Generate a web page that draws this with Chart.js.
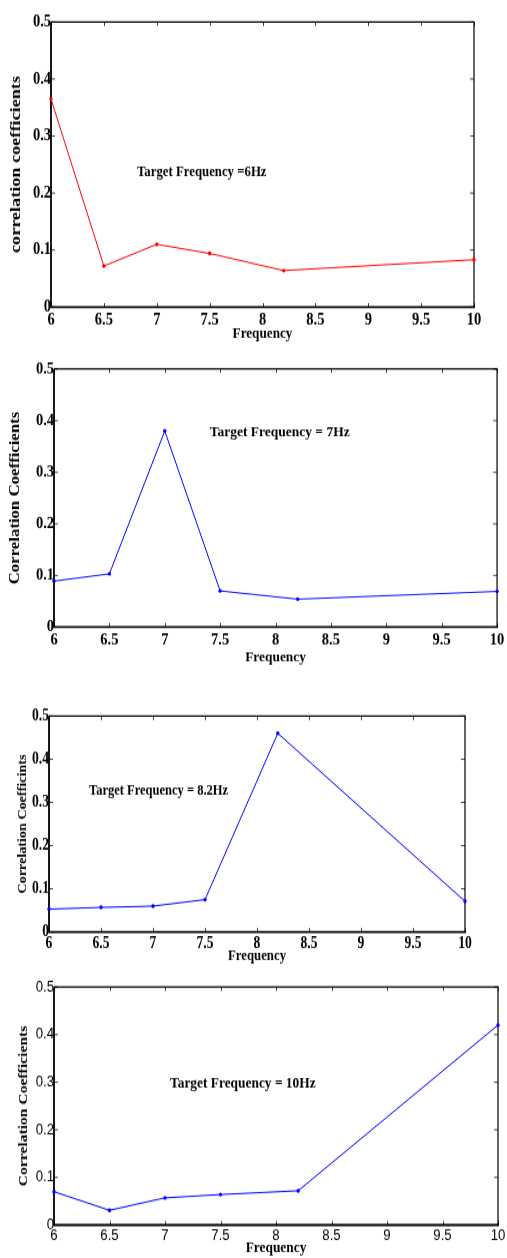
<!DOCTYPE html>
<html><head><meta charset="utf-8">
<script src="https://cdn.jsdelivr.net/npm/chart.js@4.4.1/dist/chart.umd.min.js"></script>
<style>
html,body{margin:0;padding:0;background:#fff}
body{width:507px;height:1258px;position:relative;overflow:hidden}
canvas{position:absolute;left:0;transform-origin:0 0}
</style></head><body>
<canvas id="c1" width="507"></canvas>
<canvas id="c2" width="507"></canvas>
<canvas id="c3" width="507"></canvas>
<canvas id="c4" width="507"></canvas>
<script>
// ---- data ----
const freq = [6, 6.5, 7, 7.5, 8.2, 10];
const corr6Hz  = [0.365, 0.072, 0.110, 0.094, 0.064, 0.083];
const corr7Hz  = [0.089, 0.103, 0.380, 0.070, 0.054, 0.069];
const corr82Hz = [0.053, 0.057, 0.060, 0.075, 0.460, 0.071];
const corr10Hz = [0.070, 0.031, 0.057, 0.064, 0.072, 0.420];
const xTicks = [6, 6.5, 7, 7.5, 8, 8.5, 9, 9.5, 10];
const yTicks = [0, 0.1, 0.2, 0.3, 0.4, 0.5];
const xTickLabels = ['6','6.5','7','7.5','8','8.5','9','9.5','10'];
const yTickLabels = ['0','0.1','0.2','0.3','0.4','0.5'];
const yTitles = ['correlation coefficients','Correlation Coefficients','Correlation Coefficints','Correlation Coefficients'];
const xTitle = 'Frequency';
const notes = ['Target Frequency =6Hz','Target Frequency = 7Hz','Target Frequency = 8.2Hz','Target Frequency = 10Hz'];

const SERIF = '"Liberation Serif","Times New Roman",serif';
const SANS = '"Liberation Sans",Arial,sans-serif';

const framePlugin = {
  id: 'frame',
  beforeDatasetsDraw(chart, args, o) {
    const {ctx, chartArea: a, scales: {x, y}} = chart;
    ctx.save();
    ctx.strokeStyle = '#444';
    ctx.lineWidth = 1;
    const tlx = 4, tly = 4 / o.k;
    ctx.beginPath();
    xTicks.forEach(v => {
      const px = Math.round(x.getPixelForValue(v)) + 0.5;
      ctx.moveTo(px, a.bottom); ctx.lineTo(px, a.bottom - tly);
      ctx.moveTo(px, a.top); ctx.lineTo(px, a.top + tly);
    });
    yTicks.forEach(v => {
      const py = y.getPixelForValue(v);
      ctx.moveTo(a.left, py); ctx.lineTo(a.left + tlx, py);
      ctx.moveTo(a.right, py); ctx.lineTo(a.right - tlx, py);
    });
    ctx.stroke();
    ctx.strokeStyle = '#000';
    ctx.lineWidth = 1.2;
    ctx.beginPath();
    ctx.moveTo(a.left, a.top); ctx.lineTo(a.right, a.top); ctx.lineTo(a.right, a.bottom);
    ctx.stroke();
    ctx.lineWidth = 1.8;
    ctx.beginPath();
    ctx.moveTo(a.left, a.top); ctx.lineTo(a.left, a.bottom); ctx.lineTo(a.right + 1, a.bottom);
    ctx.stroke();
    ctx.restore();
  },
  afterDatasetsDraw(chart, args, o) {
    const {ctx, scales: {x, y}} = chart;
    ctx.save();
    ctx.fillStyle = '#000';
    ctx.font = o.font;
    ctx.textAlign = 'left';
    ctx.textBaseline = 'middle';
    ctx.fillText(o.text, x.getPixelForValue(o.x), y.getPixelForValue(o.y));
    ctx.restore();
  }
};

// cfg positions are given in screen pixels; k = vertical stretch of the figure
function makeChart(id, values, color, cfg) {
  const el = document.getElementById(id);
  const W = 507, k0 = cfg.k;
  const h = Math.round(cfg.H / k0);
  const k = cfg.H / h;
  el.width = W; el.height = h;
  el.style.width = W + 'px'; el.style.height = h + 'px';
  el.style.top = cfg.screenTop + 'px';
  el.style.transform = 'scaleY(' + k + ')';
  const top = cfg.top / k, bottom = cfg.bottom / k;
  return new Chart(el, {
    type: 'line',
    data: {
      datasets: [{
        data: freq.map((f, i) => ({x: f, y: values[i]})),
        borderColor: color,
        backgroundColor: color,
        borderWidth: 1,
        pointRadius: 1.7,
        pointBorderWidth: 0,
        pointHoverRadius: 1.7,
        tension: 0,
        clip: false
      }]
    },
    options: {
      responsive: false,
      animation: false,
      events: [],
      layout: {padding: {left: 0, top: top, right: W - cfg.right, bottom: 0}},
      plugins: {
        legend: {display: false},
        tooltip: {enabled: false},
        frame: {text: cfg.note, x: cfg.noteX, y: cfg.noteY, font: cfg.noteFont, k: k}
      },
      scales: {
        x: {
          type: 'linear', min: 6, max: 10,
          afterFit: s => { s.height = h - bottom; },
          afterBuildTicks: s => { s.ticks = xTicks.map(v => ({value: v})); },
          grid: {display: false, drawTicks: false},
          border: {display: false},
          ticks: {
            autoSkip: false, maxRotation: 0, padding: cfg.xTickPad / k, color: '#000',
            font: cfg.tickFont,
            callback: (v) => xTickLabels[xTicks.indexOf(v)]
          },
          title: {display: true, text: xTitle, color: '#000', font: cfg.xTitleFont, padding: {top: 0, bottom: cfg.xTitlePad / k}}
        },
        y: {
          type: 'linear', min: 0, max: 0.5,
          afterFit: s => { s.width = cfg.left; },
          afterBuildTicks: s => { s.ticks = yTicks.map(v => ({value: v})); },
          grid: {display: false, drawTicks: false},
          border: {display: false},
          ticks: {
            autoSkip: false, padding: 0, color: '#000',
            font: cfg.tickFont,
            callback: (v) => yTickLabels[yTicks.indexOf(v)]
          },
          title: {display: true, text: cfg.yTitle, color: '#000', font: cfg.yTitleFont, padding: {top: cfg.yTitlePad, bottom: 0}}
        }
      }
    },
    plugins: [framePlugin]
  });
}

makeChart('c1', corr6Hz, '#ff0000', {
  screenTop: 0, H: 345, k: 1.2,
  left: 51, right: 474, top: 22, bottom: 307,
  tickFont: {family: SERIF, size: 14.5, weight: 'bold'}, xTickPad: 3,
  xTitleFont: {family: SERIF, size: 13.2, weight: 'bold'}, xTitlePad: 2,
  yTitle: yTitles[0], yTitleFont: {family: SERIF, size: 15.2, weight: 'bold'}, yTitlePad: 7,
  note: notes[0], noteX: 6.813, noteY: 0.237, noteFont: 'bold 12.8px ' + SERIF
});
makeChart('c2', corr7Hz, '#0000ff', {
  screenTop: 350, H: 318, k: 1.12,
  left: 54, right: 501, top: 19, bottom: 277,
  tickFont: {family: SERIF, size: 14.5, weight: 'bold'}, xTickPad: 3,
  xTitleFont: {family: SERIF, size: 13.4, weight: 'bold'}, xTitlePad: 2,
  yTitle: yTitles[1], yTitleFont: {family: SERIF, size: 15, weight: 'bold'}, yTitlePad: 6,
  note: notes[1], noteX: 7.405, noteY: 0.378, noteFont: 'bold 13.5px ' + SERIF
});
makeChart('c3', corr82Hz, '#0000ff', {
  screenTop: 700, H: 266, k: 1.2,
  left: 49, right: 465, top: 16, bottom: 232,
  tickFont: {family: SERIF, size: 13.6, weight: 'bold'}, xTickPad: 2,
  xTitleFont: {family: SERIF, size: 12.8, weight: 'bold'}, xTitlePad: 1,
  yTitle: yTitles[2], yTitleFont: {family: SERIF, size: 11.8, weight: 'bold'}, yTitlePad: 16,
  note: notes[2], noteX: 6.385, noteY: 0.326, noteFont: 'bold 12.5px ' + SERIF
});
makeChart('c4', corr10Hz, '#0000ff', {
  screenTop: 970, H: 288, k: 1.2,
  left: 54, right: 498, top: 17, bottom: 255,
  tickFont: {family: SANS, size: 13.2, weight: 'normal'}, xTickPad: 1,
  xTitleFont: {family: SERIF, size: 13.4, weight: 'bold'}, xTitlePad: 0,
  yTitle: yTitles[3], yTitleFont: {family: SERIF, size: 13, weight: 'bold'}, yTitlePad: 16,
  note: notes[3], noteX: 7.045, noteY: 0.298, noteFont: 'bold 13.4px ' + SERIF
});
</script>
</body></html>
